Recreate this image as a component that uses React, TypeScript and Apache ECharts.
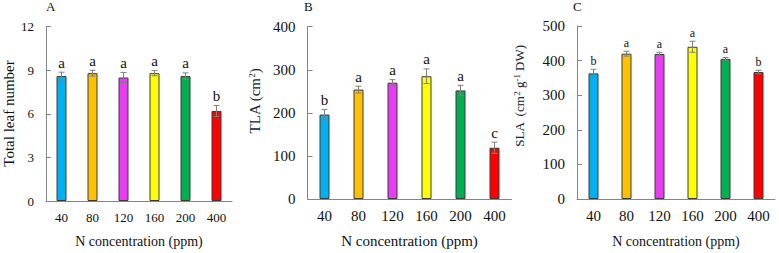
import React, { useEffect, useRef } from "react";
import * as echarts from "echarts";

// N treatments (ppm)
const concentrations = ["40", "80", "120", "160", "200", "400"];

// Panel A: total leaf number
const leafNumber = [8.6, 8.8, 8.5, 8.8, 8.6, 6.2];
const leafNumberSE = [0.27, 0.2, 0.35, 0.18, 0.22, 0.38];
const leafNumberLetters = ["a", "a", "a", "a", "a", "b"];

// Panel B: total leaf area (cm2)
const tla = [196, 254, 270, 285, 252, 119];
const tlaSE = [12, 8, 7, 17, 12, 13];
const tlaLetters = ["b", "a", "a", "a", "a", "c"];

// Panel C: specific leaf area (cm2 g-1 DW)
const sla = [363, 420, 419, 440, 405, 367];
const slaSE = [12, 7, 5, 16, 4, 5];
const slaLetters = ["b", "a", "a", "a", "a", "b"];

const barColors = ["#00B0F0", "#FFC000", "#EA3CF2", "#FFFF00", "#00B050", "#FF0000"];

const SERIF = '"Liberation Serif", "Times New Roman", serif';
const AXIS_GREY = "#858585";

type Panel = {
  values: number[];
  se: number[];
  letters: string[];
  max: number;
  interval: number;
  grid: { left: number; top: number; width: number; height: number };
  tickFont: number;
  titleFont: number;
  letterFont: number;
  nameGap: number;
  labelMargin: number;
};

const panels: Panel[] = [
  {
    values: leafNumber,
    se: leafNumberSE,
    letters: leafNumberLetters,
    max: 12,
    interval: 3,
    grid: { left: 46, top: 26.7, width: 186, height: 176 },
    tickFont: 13,
    titleFont: 14,
    letterFont: 15,
    nameGap: 33,
    labelMargin: 10,
  },
  {
    values: tla,
    se: tlaSE,
    letters: tlaLetters,
    max: 400,
    interval: 100,
    grid: { left: 307.5, top: 26.7, width: 204, height: 174.3 },
    tickFont: 15,
    titleFont: 15,
    letterFont: 15,
    nameGap: 34,
    labelMargin: 9,
  },
  {
    values: sla,
    se: slaSE,
    letters: slaLetters,
    max: 500,
    interval: 100,
    grid: { left: 577, top: 26, width: 198, height: 175 },
    tickFont: 15,
    titleFont: 14,
    letterFont: 12,
    nameGap: 35,
    labelMargin: 9,
  },
];

function buildOption() {
  const grid = panels.map((p) => ({ ...p.grid, containLabel: false }));

  const xAxis = panels.map((p, i) => ({
    type: "category",
    gridIndex: i,
    data: concentrations,
    name: "N concentration (ppm)",
    nameLocation: "middle",
    nameGap: p.nameGap,
    nameTextStyle: { fontFamily: SERIF, fontSize: p.titleFont, color: "#111" },
    axisLine: { lineStyle: { color: AXIS_GREY, width: 1 } },
    axisTick: { show: false },
    axisLabel: { fontFamily: SERIF, fontSize: p.tickFont, color: "#111", margin: p.labelMargin },
    splitLine: { show: false },
  }));

  const yAxis = panels.map((p, i) => ({
    type: "value",
    gridIndex: i,
    min: 0,
    max: p.max,
    interval: p.interval,
    axisLine: { show: true, lineStyle: { color: AXIS_GREY, width: 1 } },
    axisTick: { show: true, inside: true, length: 5, lineStyle: { color: AXIS_GREY } },
    axisLabel: { fontFamily: SERIF, fontSize: p.tickFont, color: "#111", margin: 12 },
    splitLine: { show: false },
  }));

  const series: any[] = [];
  panels.forEach((p, i) => {
    series.push({
      type: "bar",
      xAxisIndex: i,
      yAxisIndex: i,
      barWidth: 10,
      data: p.values.map((v, k) => ({
        value: v,
        itemStyle: { color: barColors[k], borderColor: "#3a3a3a", borderWidth: 1 },
      })),
      z: 2,
    });
    series.push({
      type: "custom",
      xAxisIndex: i,
      yAxisIndex: i,
      z: 3,
      data: p.values.map((v, k) => [k, v, p.se[k]]),
      renderItem: (params: any, api: any) => {
        const cat = api.value(0);
        const v = api.value(1);
        const e = api.value(2);
        const hi = api.coord([cat, v + e]);
        const lo = api.coord([cat, v - e]);
        const x = hi[0];
        const cap = 3;
        const stroke = { stroke: "#808080", lineWidth: 1 };
        return {
          type: "group",
          children: [
            { type: "line", shape: { x1: x, y1: hi[1], x2: x, y2: lo[1] }, style: stroke },
            { type: "line", shape: { x1: x - cap, y1: hi[1], x2: x + cap, y2: hi[1] }, style: stroke },
            { type: "line", shape: { x1: x - cap, y1: lo[1], x2: x + cap, y2: lo[1] }, style: stroke },
            {
              type: "text",
              x: x,
              y: hi[1] - 2,
              style: {
                text: p.letters[params.dataIndex],
                fontFamily: SERIF,
                fontSize: p.letterFont,
                fill: "#111",
                align: "center",
                verticalAlign: "bottom",
              },
            },
          ],
        };
      },
    });
  });

  const supRich = {
    t: { fontFamily: SERIF, fontSize: 15, fill: "#222" },
    s: { fontFamily: SERIF, fontSize: 9, fill: "#222", verticalAlign: "top" },
  };
  const supRichSmall = {
    t: { fontFamily: SERIF, fontSize: 13, fill: "#222" },
    s: { fontFamily: SERIF, fontSize: 9, fill: "#222", verticalAlign: "top" },
  };

  const graphic = [
    { type: "text", left: 46, top: 0, style: { text: "A", fontFamily: SERIF, fontSize: 13, fill: "#111" } },
    { type: "text", left: 304, top: 0, style: { text: "B", fontFamily: SERIF, fontSize: 13, fill: "#111" } },
    { type: "text", left: 573, top: 0, style: { text: "C", fontFamily: SERIF, fontSize: 13, fill: "#111" } },
    {
      type: "text",
      x: 9,
      y: 113.5,
      rotation: Math.PI / 2,
      style: {
        text: "Total leaf number",
        fontFamily: SERIF,
        fontSize: 15,
        fill: "#111",
        align: "center",
        verticalAlign: "middle",
      },
    },
    {
      type: "text",
      x: 255,
      y: 101,
      rotation: Math.PI / 2,
      style: {
        text: "{t|TLA (cm}{s|2}{t|)}",
        rich: supRich,
        align: "center",
        verticalAlign: "middle",
      },
    },
    {
      type: "text",
      x: 519,
      y: 96,
      rotation: Math.PI / 2,
      style: {
        text: "{t|SLA  (cm}{s|2}{t| g}{s|-1}{t| DW)}",
        rich: supRichSmall,
        align: "center",
        verticalAlign: "middle",
      },
    },
  ];

  return {
    animation: false,
    backgroundColor: "#ffffff",
    grid,
    xAxis,
    yAxis,
    series,
    graphic,
  };
}

export default function App() {
  const ref = useRef<HTMLDivElement>(null);

  useEffect(() => {
    if (!ref.current) return;
    const chart = echarts.init(ref.current, undefined, { renderer: "svg" });
    chart.setOption(buildOption() as any);
    return () => chart.dispose();
  }, []);

  return (
    <div
      ref={ref}
      style={{ position: "fixed", left: 0, top: 0, width: 779, height: 253, background: "#fff" }}
    />
  );
}
